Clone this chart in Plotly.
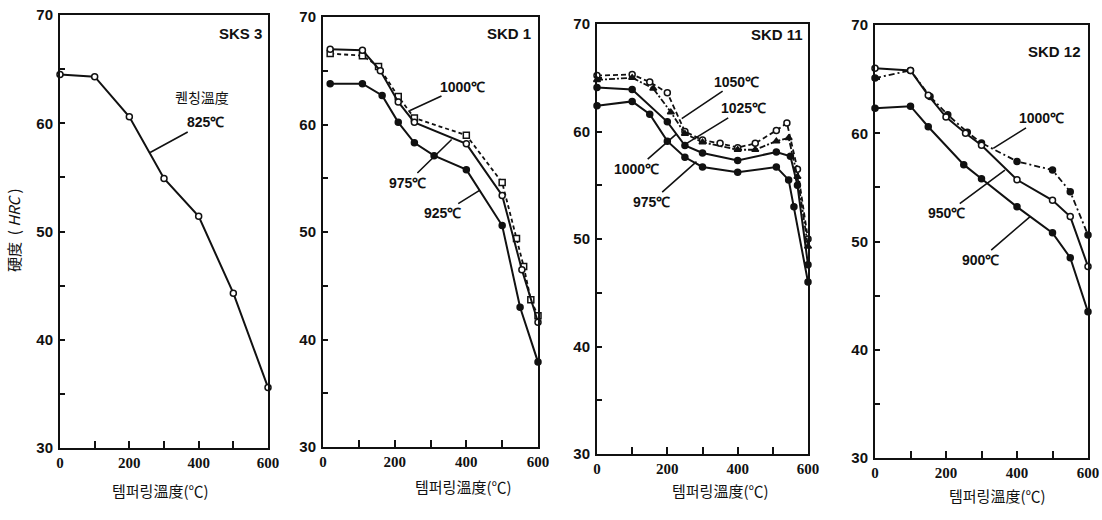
import plotly.graph_objects as go

# ---------------- data ----------------
# SKS 3
sks3_x = [0, 100, 200, 300, 400, 500, 600]
sks3_825 = [64.5, 64.3, 60.6, 54.9, 51.4, 44.3, 35.6]

# SKD 1
skd1_1000_x = [20, 110, 155, 210, 255, 400, 500, 540, 560, 580, 600]
skd1_1000_y = [66.6, 66.4, 65.4, 62.6, 60.6, 59.0, 54.6, 49.4, 46.8, 43.7, 42.2]
skd1_975_x = [20, 110, 160, 210, 255, 400, 500, 555, 600]
skd1_975_y = [67.0, 66.9, 65.0, 62.1, 60.2, 58.2, 53.4, 46.5, 41.6]
skd1_925_x = [20, 110, 165, 210, 255, 310, 400, 500, 550, 600]
skd1_925_y = [63.8, 63.8, 62.7, 60.2, 58.3, 57.1, 55.8, 50.6, 43.0, 37.9]

# SKD 11
skd11_1050_x = [0, 100, 150, 200, 250, 300, 350, 400, 450, 510, 540, 570, 600]
skd11_1050_y = [65.2, 65.3, 64.6, 63.6, 60.0, 59.2, 58.9, 58.5, 58.9, 60.1, 60.8, 56.5, 50.0]
skd11_1025_x = [0, 100, 160, 210, 250, 300, 400, 450, 510, 545, 570, 600]
skd11_1025_y = [64.8, 65.0, 64.0, 61.8, 59.8, 59.0, 58.3, 58.3, 59.1, 59.4, 55.8, 49.3]
skd11_1000_x = [0, 100, 200, 250, 300, 400, 510, 550, 570, 600]
skd11_1000_y = [64.1, 63.9, 60.9, 58.7, 58.0, 57.3, 58.1, 57.7, 55.0, 47.6]
skd11_975_x = [0, 100, 150, 200, 250, 300, 400, 510, 545, 560, 600]
skd11_975_y = [62.4, 62.8, 61.6, 59.1, 57.6, 56.7, 56.2, 56.7, 55.5, 53.0, 46.0]

# SKD 12
skd12_1000_x = [0, 100, 155, 205, 260, 300, 400, 500, 550, 600]
skd12_1000_y = [65.1, 65.8, 63.4, 61.7, 60.1, 59.1, 57.4, 56.6, 54.6, 50.6]
skd12_950_x = [0, 100, 150, 200, 255, 300, 400, 500, 550, 600]
skd12_950_y = [66.0, 65.8, 63.5, 61.5, 60.0, 58.9, 55.7, 53.8, 52.3, 47.7]
skd12_900_x = [0, 100, 150, 250, 300, 400, 500, 550, 600]
skd12_900_y = [62.3, 62.5, 60.6, 57.1, 55.8, 53.2, 50.8, 48.5, 43.5]

panel_names = ["SKS 3", "SKD 1", "SKD 11", "SKD 12"]
x_tick_vals = [0, 200, 400, 600]
x_tick_text = ["0", "200", "400", "600"]
y_tick_vals = [30, 40, 50, 60, 70]
x_title = "템퍼링溫度(℃)"
y_title = "硬度  ( <i>HRC</i> )"

# ---------------- layout geometry (pixels) ----------------
W, H = 1102, 520
boxes = [(60, 268, 15, 448), (323, 538, 17, 447), (597, 808, 24, 454), (875, 1088, 25, 458)]

fig = go.Figure()

BLACK = "#111111"


def add(n, xs, ys, dash, symbol, fill, width=2):
    fig.add_trace(go.Scatter(
        x=xs, y=ys, mode="lines+markers",
        xaxis="x" if n == 1 else f"x{n}", yaxis="y" if n == 1 else f"y{n}",
        line=dict(color=BLACK, width=width, dash=dash),
        marker=dict(symbol=symbol, size=6, color=fill, line=dict(color=BLACK, width=1.5)),
        cliponaxis=False, showlegend=False, hoverinfo="skip"))


add(1, sks3_x, sks3_825, "solid", "circle", "white")

add(2, skd1_1000_x, skd1_1000_y, "4px,3px", "square", "white", 1.8)
add(2, skd1_975_x, skd1_975_y, "solid", "circle", "white")
add(2, skd1_925_x, skd1_925_y, "solid", "circle", BLACK)

add(3, skd11_1050_x, skd11_1050_y, "5px,3px", "circle", "white", 1.8)
add(3, skd11_1025_x, skd11_1025_y, "6px,2px,2px,2px", "triangle-up", BLACK, 1.8)
add(3, skd11_1000_x, skd11_1000_y, "solid", "circle", BLACK)
add(3, skd11_975_x, skd11_975_y, "solid", "circle", BLACK)

add(4, skd12_1000_x, skd12_1000_y, "6px,3px,2px,3px", "circle", BLACK, 1.8)
add(4, skd12_950_x, skd12_950_y, "solid", "circle", "white")
add(4, skd12_900_x, skd12_900_y, "solid", "circle", BLACK)

layout = dict(
    width=W, height=H, margin=dict(l=0, r=0, t=0, b=0),
    paper_bgcolor="white", plot_bgcolor="white", template="none",
    font=dict(family="Liberation Sans, Arial, sans-serif", color=BLACK),
)

for i, (x0, x1, y0, y1) in enumerate(boxes, start=1):
    sx = "" if i == 1 else str(i)
    layout["xaxis" + sx] = dict(
        domain=[x0 / W, x1 / W], range=[0, 600], anchor="y" + sx,
        showline=True, mirror=True, linecolor=BLACK, linewidth=2,
        showgrid=False, zeroline=False, automargin=False,
        tickvals=x_tick_vals, ticktext=[f"<b>{t}</b>" for t in x_tick_text],
        ticks="inside", ticklen=7, tickwidth=1.5, tickcolor=BLACK,
        minor=dict(tickvals=[100, 300, 500], ticks="inside", ticklen=7, tickwidth=1.5, tickcolor=BLACK),
        tickfont=dict(family="Liberation Serif, Times New Roman, serif", size=15, color=BLACK),
    )
    layout["yaxis" + sx] = dict(
        domain=[1 - y1 / H, 1 - y0 / H], range=[30, 70], anchor="x" + sx,
        showline=True, mirror=True, linecolor=BLACK, linewidth=2,
        showgrid=False, zeroline=False, automargin=False,
        tickvals=y_tick_vals, ticktext=[f"<b>{v}</b>" for v in y_tick_vals],
        ticks="inside", ticklen=5, tickwidth=1.5, tickcolor=BLACK,
        minor=dict(tickvals=[35, 45, 55, 65], ticks="inside", ticklen=5, tickwidth=1.5, tickcolor=BLACK),
        tickfont=dict(family="Liberation Sans Narrow, Liberation Sans, sans-serif", size=15, color=BLACK),
        ticklabelstandoff=2,
    )

fig.update_layout(**layout)

ann = []
# panel names
name_pos = [(264, 33), (533, 33), (805, 35), (1083, 52)]
for name, (px, py) in zip(panel_names, name_pos):
    ann.append(dict(text=f"<b>{name}</b>", x=px / W, y=1 - py / H, xref="paper", yref="paper",
                    xanchor="right", yanchor="middle", showarrow=False,
                    font=dict(family="Liberation Sans, sans-serif", size=15, color=BLACK)))
# x titles
for px, py in [(160, 490), (463, 486), (720, 490), (997, 495)]:
    ann.append(dict(text=x_title, x=px / W, y=1 - py / H, xref="paper", yref="paper",
                    xanchor="center", yanchor="middle",
                    showarrow=False, font=dict(family="Noto Sans CJK KR", size=15, color=BLACK)))
# y title
ann.append(dict(text=y_title, x=13 / W, y=1 - 230 / H, xref="paper", yref="paper", textangle=-90,
                xanchor="center", yanchor="middle",
                showarrow=False, font=dict(family="Noto Sans CJK KR", size=15, color=BLACK)))

LAB = dict(family="Liberation Sans, sans-serif", size=14, color=BLACK)


def leader(n, x, y, text, ax, ay):
    ax_ = "x" if n == 1 else f"x{n}"
    ay_ = "y" if n == 1 else f"y{n}"
    ann.append(dict(text=f"<b>{text}</b>", x=x, y=y, xref=ax_, yref=ay_, showarrow=True,
                    arrowhead=0, arrowwidth=1.6, arrowcolor=BLACK, ax=ax, ay=ay,
                    font=LAB, borderpad=1))


# SKS 3 label
ann.append(dict(text="퀜칭溫度", x=202 / W, y=1 - 97 / H, xref="paper", yref="paper", showarrow=False,
                xanchor="center", yanchor="middle",
                font=dict(family="Noto Sans CJK KR", size=14, color=BLACK)))
leader(1, 260, 57.3, "825℃", 55, -30)
# SKD 1
leader(2, 243, 61.3, "1000℃", 52, -24)
leader(2, 359, 58.6, "975℃", -44, 43)
leader(2, 438, 53.9, "925℃", -37, 23)
# SKD 11
leader(3, 241, 61.2, "1050℃", 55, -37)
leader(3, 255, 58.9, "1025℃", 57, -35)
leader(3, 227, 59.8, "1000℃", -40, 35)
leader(3, 283, 57.2, "975℃", -45, 40)
# SKD 12
leader(4, 333, 58.6, "1000℃", 48, -30)
leader(4, 366, 56.6, "950℃", -58, 43)
leader(4, 437, 52.3, "900℃", -50, 43)

fig.update_layout(annotations=ann)
fig.write_html("out.html", config={"displayModeBar": False},
               post_script="document.body.style.margin='0';document.body.style.overflow='hidden';")
